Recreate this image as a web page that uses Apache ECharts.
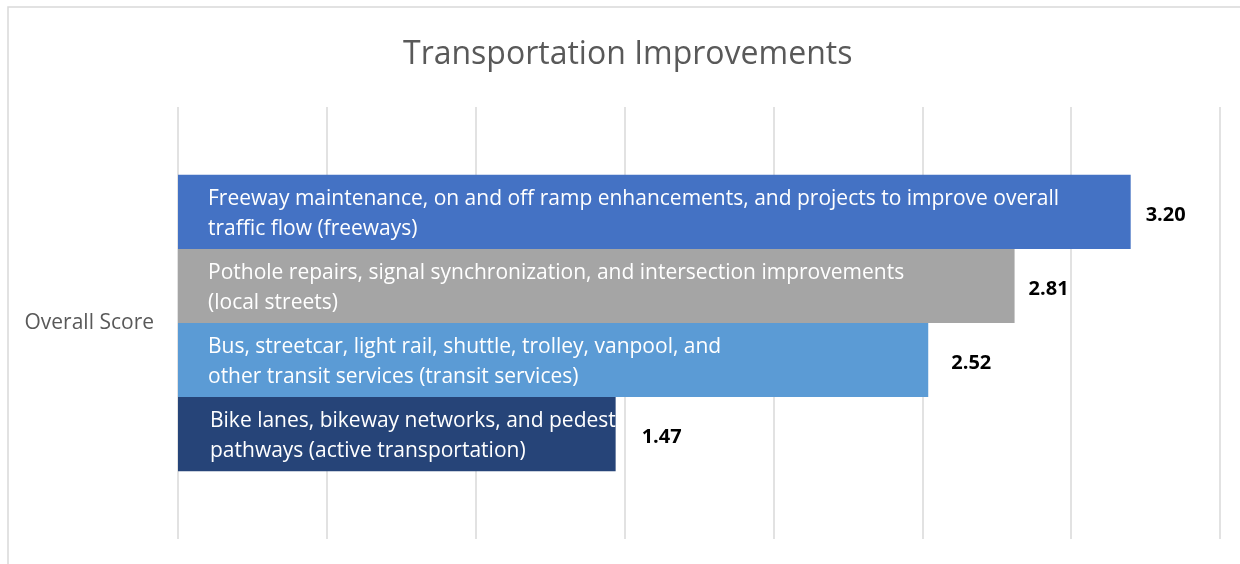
<!DOCTYPE html>
<html>
<head>
<meta charset="utf-8">
<script src="https://cdn.jsdelivr.net/npm/echarts@6/dist/echarts.min.js"></script>
<style>
  html, body { margin: 0; padding: 0; background: #fff; }
  #chart { width: 1240px; height: 564px; }
</style>
</head>
<body>
<div id="chart"></div>
<script>
// datos del gráfico
const categories = ['Overall Score'];
const seriesNames = [
  'Freeway maintenance, on and off ramp enhancements, and projects to improve overall traffic flow (freeways)',
  'Pothole repairs, signal synchronization, and intersection improvements (local streets)',
  'Bus, streetcar, light rail, shuttle, trolley, vanpool, and other transit services (transit services)',
  'Bike lanes, bikeway networks, and pedestrian pathways (active transportation)'
];
// cortes de línea como en el original
const labelLines = [
  ['Freeway maintenance, on and off ramp enhancements, and projects to improve overall', 'traffic flow (freeways)'],
  ['Pothole repairs, signal synchronization, and intersection improvements', '(local streets)'],
  ['Bus, streetcar, light rail, shuttle, trolley, vanpool, and', 'other transit services (transit services)'],
  ['Bike lanes, bikeway networks, and pedestrian', 'pathways (active transportation)']
];
const scores = [3.20, 2.81, 2.52, 1.47];
const barColors = ['#4472C4', '#A5A5A5', '#5B9BD5', '#264478'];
const xTicks = { min: 0, max: 3.5, interval: 0.5 };

const FONT = '"Open Sans", sans-serif';
const gridLeft = 178, gridRight = 20;
const gridWidth = 1240 - gridLeft - gridRight;
// separaciones de las etiquetas (como las dejó Excel)
const namePad = [30, 30, 30, 32];
const valuePad = [15, 14, 23, 26];

// barras con el texto adentro
const barSeries = scores.map((v, i) => ({
  name: seriesNames[i],
  type: 'bar',
  yAxisIndex: 0,
  barGap: 0,
  barCategoryGap: '31.4%',
  data: [v],
  itemStyle: { color: barColors[i] },
  label: {
    show: true,
    position: 'insideLeft',
    distance: namePad[i],
    offset: [0, 2],
    color: '#fff',
    fontFamily: FONT,
    fontSize: 21,
    lineHeight: 30,
    width: v / xTicks.max * gridWidth - namePad[i] + 6,
    overflow: 'truncate',
    ellipsis: '',
    formatter: () => labelLines[i].join('\n')
  },
  silent: true
}));

// barras transparentes solo para el valor
const valueSeries = scores.map((v, i) => ({
  name: 'v' + i,
  type: 'bar',
  yAxisIndex: 1,
  barGap: 0,
  barCategoryGap: '31.4%',
  data: [v],
  itemStyle: { color: 'transparent' },
  label: {
    show: true,
    position: 'right',
    distance: valuePad[i],
    offset: [0, 3],
    color: '#000',
    fontFamily: FONT,
    fontWeight: 'bold',
    fontSize: 20,
    formatter: p => p.value.toFixed(2)
  },
  silent: true
}));

let myChart = echarts.init(document.getElementById('chart'));
myChart.setOption({
  animation: false,
  backgroundColor: '#fff',
  title: {
    text: 'Transportation Improvements',
    left: 398,
    top: 34,
    textStyle: { color: '#595959', fontFamily: FONT, fontWeight: 'normal', fontSize: 32 }
  },
  graphic: [{
    type: 'rect',
    shape: { x: 8, y: 7, width: 1300, height: 620 },
    style: { fill: 'none', stroke: '#d9d9d9', lineWidth: 1.5 },
    silent: true
  }],
  grid: { left: gridLeft, right: gridRight, top: 107, bottom: 25 },
  xAxis: {
    type: 'value',
    min: xTicks.min,
    max: xTicks.max,
    interval: xTicks.interval,
    axisLabel: { show: false },
    axisLine: { show: false },
    axisTick: { show: false },
    splitLine: { lineStyle: { color: '#d9d9d9', width: 1.5 } }
  },
  yAxis: [{
    type: 'category',
    data: categories,
    axisLine: { show: false },
    axisTick: { show: false },
    axisLabel: { color: '#595959', fontFamily: FONT, fontSize: 21, margin: 24 }
  }, {
    type: 'category',
    data: categories,
    show: false
  }],
  series: barSeries.concat(valueSeries)
});
</script>
</body>
</html>
